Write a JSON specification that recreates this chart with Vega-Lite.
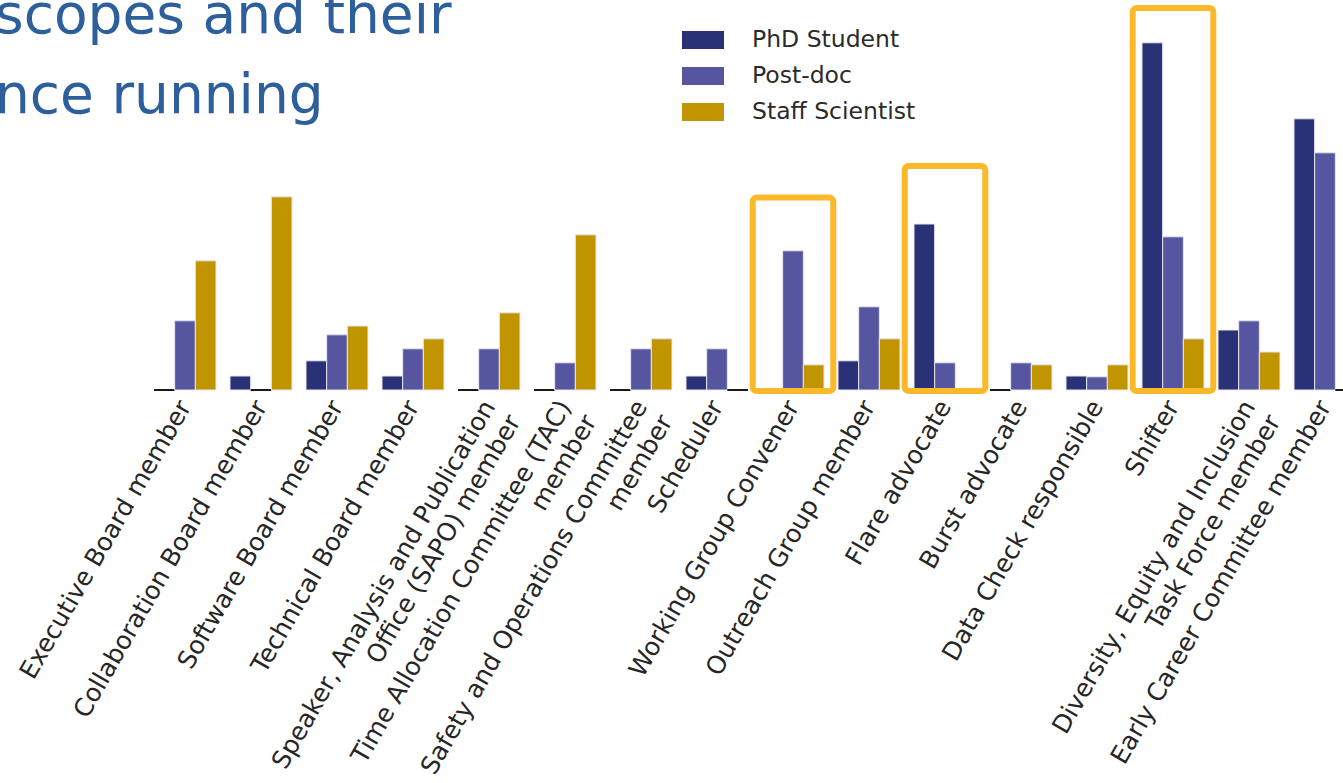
{
  "$schema": "https://vega.github.io/schema/vega-lite/v6.json",
  "width": 1193,
  "height": 390,
  "autosize": {"type": "none"},
  "padding": {"left": 150, "top": 0, "right": 0, "bottom": 393},
  "background": "white",
  "config": {"view": {"stroke": null}},
  "title": {
    "text": ["scopes and their", "nce running"],
    "anchor": "start",
    "frame": "group",
    "orient": "top",
    "font": "DejaVu Sans",
    "fontSize": 55,
    "fontWeight": 400,
    "color": "#2c5f9c",
    "lineHeight": 80,
    "baseline": "alphabetic",
    "offset": 0,
    "limit": 0,
    "dx": -155,
    "dy": 168
  },
  "datasets": {
    "bars": [
      {"category": "Executive Board member", "role": "PhD Student", "value": 0},
      {"category": "Executive Board member", "role": "Post-doc", "value": 17.3},
      {"category": "Executive Board member", "role": "Staff Scientist", "value": 32.3},
      {"category": "Collaboration Board member", "role": "PhD Student", "value": 3.5},
      {"category": "Collaboration Board member", "role": "Post-doc", "value": 0},
      {"category": "Collaboration Board member", "role": "Staff Scientist", "value": 48.3},
      {"category": "Software Board member", "role": "PhD Student", "value": 7.3},
      {"category": "Software Board member", "role": "Post-doc", "value": 13.8},
      {"category": "Software Board member", "role": "Staff Scientist", "value": 16},
      {"category": "Technical Board member", "role": "PhD Student", "value": 3.5},
      {"category": "Technical Board member", "role": "Post-doc", "value": 10.3},
      {"category": "Technical Board member", "role": "Staff Scientist", "value": 12.8},
      {"category": "Speaker, Analysis and Publication\nOffice (SAPO) member", "role": "PhD Student", "value": 0},
      {"category": "Speaker, Analysis and Publication\nOffice (SAPO) member", "role": "Post-doc", "value": 10.3},
      {"category": "Speaker, Analysis and Publication\nOffice (SAPO) member", "role": "Staff Scientist", "value": 19.3},
      {"category": "Time Allocation Committee (TAC)\nmember", "role": "PhD Student", "value": 0},
      {"category": "Time Allocation Committee (TAC)\nmember", "role": "Post-doc", "value": 6.8},
      {"category": "Time Allocation Committee (TAC)\nmember", "role": "Staff Scientist", "value": 38.8},
      {"category": "Safety and Operations Committee\nmember", "role": "PhD Student", "value": 0},
      {"category": "Safety and Operations Committee\nmember", "role": "Post-doc", "value": 10.3},
      {"category": "Safety and Operations Committee\nmember", "role": "Staff Scientist", "value": 12.8},
      {"category": "Scheduler", "role": "PhD Student", "value": 3.5},
      {"category": "Scheduler", "role": "Post-doc", "value": 10.3},
      {"category": "Scheduler", "role": "Staff Scientist", "value": 0},
      {"category": "Working Group Convener", "role": "PhD Student", "value": 0},
      {"category": "Working Group Convener", "role": "Post-doc", "value": 34.8},
      {"category": "Working Group Convener", "role": "Staff Scientist", "value": 6.3},
      {"category": "Outreach Group member", "role": "PhD Student", "value": 7.3},
      {"category": "Outreach Group member", "role": "Post-doc", "value": 20.8},
      {"category": "Outreach Group member", "role": "Staff Scientist", "value": 12.8},
      {"category": "Flare advocate", "role": "PhD Student", "value": 41.5},
      {"category": "Flare advocate", "role": "Post-doc", "value": 6.8},
      {"category": "Flare advocate", "role": "Staff Scientist", "value": 0},
      {"category": "Burst advocate", "role": "PhD Student", "value": 0},
      {"category": "Burst advocate", "role": "Post-doc", "value": 6.8},
      {"category": "Burst advocate", "role": "Staff Scientist", "value": 6.3},
      {"category": "Data Check responsible", "role": "PhD Student", "value": 3.5},
      {"category": "Data Check responsible", "role": "Post-doc", "value": 3.3},
      {"category": "Data Check responsible", "role": "Staff Scientist", "value": 6.3},
      {"category": "Shifter", "role": "PhD Student", "value": 86.8},
      {"category": "Shifter", "role": "Post-doc", "value": 38.3},
      {"category": "Shifter", "role": "Staff Scientist", "value": 12.8},
      {"category": "Diversity, Equity and Inclusion\nTask Force member", "role": "PhD Student", "value": 15},
      {"category": "Diversity, Equity and Inclusion\nTask Force member", "role": "Post-doc", "value": 17.3},
      {"category": "Diversity, Equity and Inclusion\nTask Force member", "role": "Staff Scientist", "value": 9.5},
      {"category": "Early Career Committee member", "role": "PhD Student", "value": 67.8},
      {"category": "Early Career Committee member", "role": "Post-doc", "value": 59.3},
      {"category": "Early Career Committee member", "role": "Staff Scientist", "value": 0}
    ],
    "highlights": [
      {"category": "Working Group Convener", "top": 48.1, "bottom": -0.25},
      {"category": "Flare advocate", "top": 56, "bottom": -0.25},
      {"category": "Shifter", "top": 95.5, "bottom": -0.25}
    ]
  },
  "layer": [
    {
      "data": {"name": "bars"},
      "mark": {"type": "bar"},
      "encoding": {
        "x": {
          "field": "category",
          "type": "nominal",
          "sort": null,
          "scale": {"range": [4, 1206], "paddingInner": 0.184, "paddingOuter": 0},
          "axis": {
            "title": null,
            "domain": false,
            "ticks": false,
            "labelAngle": -60,
            "labelAlign": "right",
            "labelBaseline": "middle",
            "labelFont": "DejaVu Sans",
            "labelFontSize": 25,
            "labelColor": "#262626",
            "labelPadding": 12,
            "labelLimit": 0,
            "labelOverlap": false,
            "labelFlush": false,
            "labelLineHeight": 29,
            "labelExpr": "split(datum.label, '\\n')"
          }
        },
        "xOffset": {
          "field": "role",
          "type": "nominal",
          "sort": ["PhD Student", "Post-doc", "Staff Scientist"],
          "scale": {"paddingInner": 0, "paddingOuter": 0}
        },
        "y": {
          "field": "value",
          "type": "quantitative",
          "stack": null,
          "scale": {"domain": [0, 97.5], "nice": false, "zero": true},
          "axis": null
        },
        "color": {
          "field": "role",
          "type": "nominal",
          "scale": {
            "domain": ["PhD Student", "Post-doc", "Staff Scientist"],
            "range": ["#2a3277", "#5555a0", "#c09500"]
          },
          "legend": {
            "orient": "none",
            "legendX": 535,
            "legendY": 22,
            "title": null,
            "symbolType": "M-1.1667,-0.5L1.1667,-0.5L1.1667,0.5L-1.1667,0.5Z",
            "symbolSize": 1296,
            "symbolStrokeWidth": 0,
            "symbolOpacity": 1,
            "labelFont": "DejaVu Sans",
            "labelFontSize": 23.5,
            "labelColor": "#2b2b2b",
            "labelOffset": 31,
            "labelLimit": 0,
            "rowPadding": 6,
            "padding": 0
          }
        },
        "stroke": {"condition": {"test": "datum.value == 0", "value": "#1a1a1a"}, "value": "#e6e6f2"},
        "strokeWidth": {"condition": {"test": "datum.value == 0", "value": 2}, "value": 1}
      }
    },
    {
      "data": {"name": "highlights"},
      "mark": {"type": "bar", "filled": false, "width": {"band": 1.3}, "stroke": "#fbb829", "strokeWidth": 6, "cornerRadius": 4},
      "encoding": {
        "x": {"field": "category", "type": "nominal", "sort": null},
        "y": {"field": "top", "type": "quantitative"},
        "y2": {"field": "bottom"}
      }
    }
  ]
}
